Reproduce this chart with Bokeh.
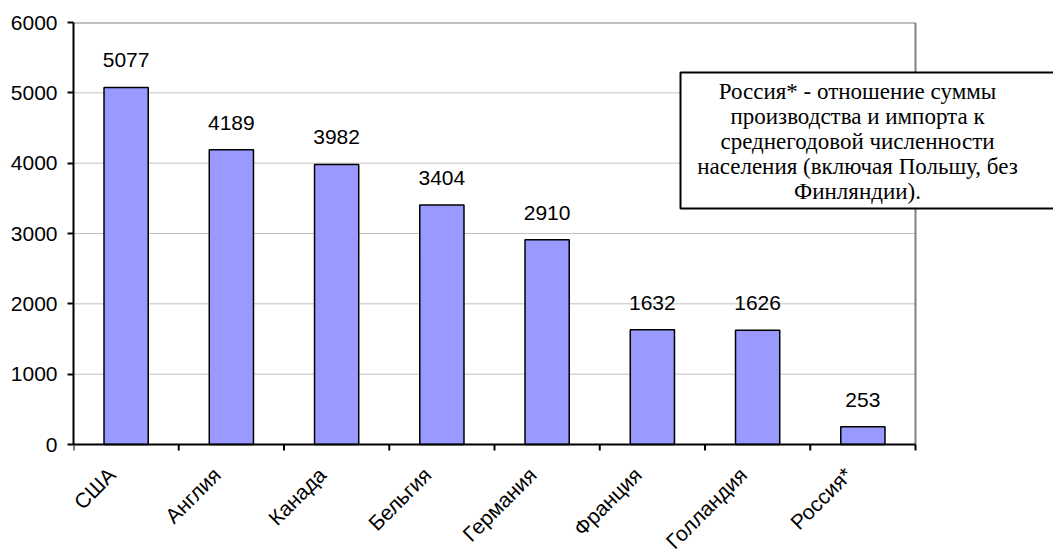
import math
from bokeh.plotting import figure
from bokeh.models import (ColumnDataSource, Range1d, FixedTicker, LabelSet, Label, BoxAnnotation)
from bokeh.core.properties import value
from bokeh.embed import file_html
from bokeh.resources import INLINE

categories = ["США", "Англия", "Канада", "Бельгия", "Германия", "Франция", "Голландия", "Россия*"]
values = [5077, 4189, 3982, 3404, 2910, 1632, 1626, 253]
y_ticks = [0, 1000, 2000, 3000, 4000, 5000, 6000]
note_lines = [
    "Россия* - отношение суммы",
    "производства и импорта к",
    "среднегодовой численности",
    "населения (включая Польшу, без",
    "Финляндии).",
]

W, H = 1053, 553
n = len(categories)
ymax = y_ticks[-1]

# pixel layout of the plotting area inside the canvas
left_px, right_px, top_px, zero_px = 73, 915, 22, 444
cat_px = (right_px - left_px) / n
x_end = (W - left_px) / cat_px
px_per_unit = (zero_px - top_px) / ymax
y_start = -(H - zero_px) / px_per_unit
tick_len = 6 / px_per_unit

xpos = [i + 0.5 for i in range(n)]
src = ColumnDataSource(dict(x=xpos, top=values, lbl=[str(v) for v in values],
                            zero=[0] * n, cat=categories))

p = figure(width=W, height=H, output_backend="svg", toolbar_location=None,
           x_range=Range1d(0, x_end), y_range=Range1d(y_start, ymax),
           x_axis_location=None,
           min_border_left=left_px, min_border_right=0, min_border_top=top_px, min_border_bottom=0)
p.background_fill_color = "white"
p.border_fill_color = "white"
p.outline_line_color = None
p.xgrid.visible = False
p.ygrid.visible = False

grid_y = y_ticks[1:-1]
p.segment(x0=[0] * len(grid_y), x1=[n] * len(grid_y), y0=grid_y, y1=grid_y,
          line_color="#C0C0C0", line_width=1)
# top and right border of plot area
p.segment(x0=[0, n], x1=[n, n], y0=[ymax, 0], y1=[ymax, ymax],
          line_color="#808080", line_width=2)

p.vbar(x="x", top="top", width=0.42, bottom=0, source=src,
       fill_color="#9999FF", line_color="black", line_width=1.5)

# category axis: line, boundary ticks
p.segment(x0=[0], x1=[n], y0=[0], y1=[0], line_color="black", line_width=2)
bounds = list(range(n + 1))
p.segment(x0=bounds, x1=bounds, y0=[0] * len(bounds), y1=[-tick_len] * len(bounds),
          line_color="black", line_width=2)

labels = LabelSet(x="x", y="top", text="lbl", source=src, y_offset=27,
                  text_align="center", text_baseline="middle",
                  text_font=value("Liberation Sans"), text_font_size="21px", text_color="black")
p.add_layout(labels)

cat_labels = LabelSet(x="x", y="zero", text="cat", source=src, angle=math.pi / 4,
                      x_offset=-22.5, y_offset=-18.5,
                      text_align="right", text_baseline="top",
                      text_font=value("Liberation Sans"), text_font_size="21px", text_color="black")
p.add_layout(cat_labels)

ya = p.yaxis[0]
ya.bounds = (0, ymax)
ya.ticker = FixedTicker(ticks=y_ticks)
ya.axis_line_color = "black"
ya.axis_line_width = 2
ya.major_tick_line_color = "black"
ya.major_tick_line_width = 2
ya.major_tick_out = 6
ya.major_tick_in = 0
ya.minor_tick_line_color = None
ya.major_label_text_font = "Liberation Sans"
ya.major_label_text_font_size = "21px"
ya.major_label_text_color = "black"
ya.major_label_standoff = 10

# note box (screen units relative to frame: x from left, y from bottom)
box_left, box_top, box_bottom = 680, 72, 208
box = BoxAnnotation(left=box_left - left_px, right=W - left_px + 20,
                    top=H - box_top, bottom=H - box_bottom,
                    left_units="screen", right_units="screen",
                    top_units="screen", bottom_units="screen",
                    fill_color="white", fill_alpha=1.0,
                    line_color="black", line_width=2, line_alpha=1.0)
p.add_layout(box)

note = Label(x=857 - left_px, y=H - box_top - 6, x_units="screen", y_units="screen",
             text="\n".join(note_lines), anchor="top_center", text_align="center",
             text_font="Liberation Serif", text_font_size="23px", text_color="black",
             text_line_height=1.0)
p.add_layout(note)

open("out.html", "w").write(file_html(p, INLINE))
